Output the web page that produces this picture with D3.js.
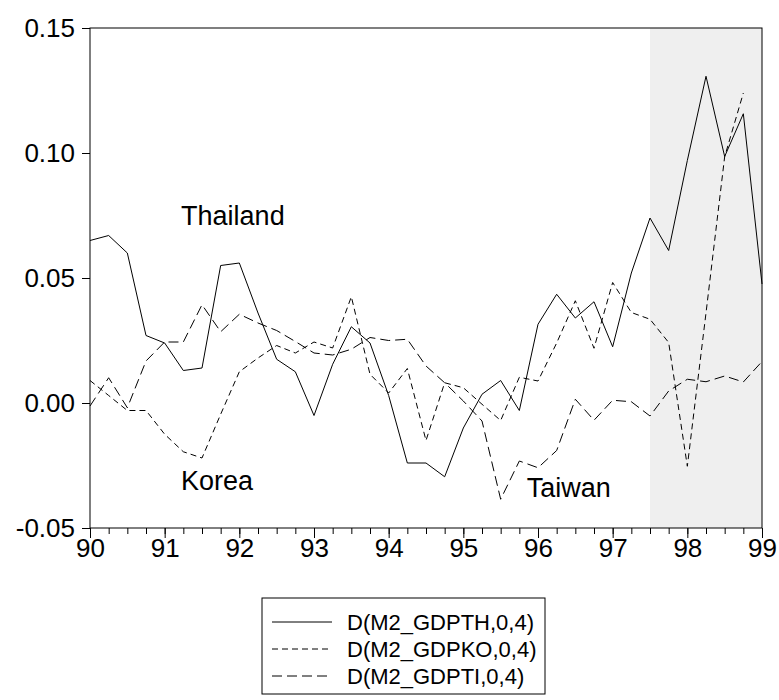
<!DOCTYPE html>
<html>
<head>
<meta charset="utf-8">
<script src="https://cdn.jsdelivr.net/npm/d3@7"></script>
<style>
  body { margin: 0; background: #fff; }
  svg text { font-family: "Liberation Sans", Arial, sans-serif; fill: #000; }
</style>
</head>
<body>
<svg id="chart" width="779" height="700"></svg>
<script>
// quarterly observations, 1990Q1 .. 1999Q1
const startYear = 90;
const thailand = [0.065, 0.067, 0.060, 0.027, 0.024, 0.013, 0.014, 0.055, 0.056, 0.036,
    0.0175, 0.0125, -0.005, 0.0155, 0.0305, 0.024, 0.003, -0.024, -0.024, -0.0295,
    -0.010, 0.0035, 0.009, -0.003, 0.0315, 0.0435, 0.034, 0.0405, 0.0225, 0.052,
    0.074, 0.061, 0.097, 0.1307, 0.0986, 0.1157, 0.0476];
const korea = [0.009, 0.003, -0.003, -0.003, -0.0125, -0.0195, -0.022, -0.0045, 0.0125, 0.018,
    0.023, 0.020, 0.0244, 0.022, 0.0425, 0.0115, 0.004, 0.0138, -0.015, 0.0081,
    0.0061, -0.0005, -0.007, 0.0103, 0.0088, 0.024, 0.0409, 0.0219, 0.0482, 0.0362,
    0.0335, 0.0242, -0.0253, 0.036, 0.0985, 0.124, null];
const taiwan = [-0.0012, 0.0101, -0.0019, 0.0168, 0.0244, 0.0244, 0.0393, 0.0285, 0.0355, 0.032,
    0.029, 0.0246, 0.020, 0.0192, 0.0215, 0.0262, 0.025, 0.0255, 0.0148, 0.0081,
    0.0008, -0.0072, -0.0385, -0.0232, -0.0259, -0.019, 0.0015, -0.0069, 0.0011, 0.0005,
    -0.0052, 0.0048, 0.0095, 0.0085, 0.0108, 0.0084, 0.0166];

const yTicks = [-0.05, 0.00, 0.05, 0.10, 0.15];
const xTicks = [90, 91, 92, 93, 94, 95, 96, 97, 98, 99];
const shadeRange = [97.5, 99];

const series = [
    {name: "D(M2_GDPTH,0,4)", values: thailand, dash: null},
    {name: "D(M2_GDPKO,0,4)", values: korea, dash: "6,4"},
    {name: "D(M2_GDPTI,0,4)", values: taiwan, dash: "10,5"}
];
const labels = [
    {text: "Thailand", x: 91.22, y: 0.075},
    {text: "Korea", x: 91.22, y: -0.031},
    {text: "Taiwan", x: 95.85, y: -0.034}
];

const svg = d3.select("#chart");
const marge = {left: 90, right: 17, top: 28, bottom: 172};
const width = 779, height = 700;

const x = d3.scaleLinear().domain([90, 99]).range([marge.left, width - marge.right]);
const y = d3.scaleLinear().domain([-0.05, 0.15]).range([height - marge.bottom, marge.top]);

// shaded period
svg.append("rect")
    .attr("x", x(shadeRange[0]))
    .attr("y", y(0.15))
    .attr("width", x(shadeRange[1]) - x(shadeRange[0]))
    .attr("height", y(-0.05) - y(0.15))
    .attr("fill", "#efefef");

// lines
const line = d3.line()
    .defined(d => d != null)
    .x((d, i) => x(startYear + i / 4))
    .y(d => y(d));

series.forEach(s => {
    svg.append("path")
        .datum(s.values)
        .attr("fill", "none")
        .attr("stroke", "#000")
        .attr("stroke-width", 1)
        .attr("stroke-dasharray", s.dash)
        .attr("d", line);
});

// frame
svg.append("rect")
    .attr("x", x(90))
    .attr("y", y(0.15))
    .attr("width", x(99) - x(90))
    .attr("height", y(-0.05) - y(0.15))
    .attr("fill", "none")
    .attr("stroke", "#000")
    .attr("stroke-width", 1);

const fmtY = d => d3.format(".2f")(d).replace("\u2212", "-");

// y axis
svg.append("g")
    .attr("transform", `translate(${x(90)},0)`)
    .call(d3.axisLeft(y).tickValues(yTicks).tickFormat(fmtY).tickSize(8).tickPadding(7))
    .call(g => g.select(".domain").remove())
    .call(g => g.selectAll("text").attr("font-size", 26).attr("font-family", "Liberation Sans, Arial, sans-serif"));

// x axis: minor quarterly ticks, major yearly ticks
const quarters = d3.range(0, 37).map(i => 90 + i / 4);
svg.append("g")
    .attr("transform", `translate(0,${y(-0.05)})`)
    .call(d3.axisBottom(x).tickValues(quarters).tickSize(6).tickFormat(""))
    .call(g => g.select(".domain").remove());
svg.append("g")
    .attr("transform", `translate(0,${y(-0.05)})`)
    .call(d3.axisBottom(x).tickValues(xTicks).tickSize(10).tickPadding(1).tickFormat(d3.format("d")))
    .call(g => g.select(".domain").remove())
    .call(g => g.selectAll("text").attr("font-size", 26).attr("font-family", "Liberation Sans, Arial, sans-serif"));

// in-plot labels
svg.selectAll(".lab")
    .data(labels)
    .enter()
    .append("text")
    .attr("class", "lab")
    .attr("x", d => x(d.x))
    .attr("y", d => y(d.y))
    .attr("dy", "0.35em")
    .attr("font-size", 27)
    .text(d => d.text);

// legend
const legend = svg.append("g").attr("transform", "translate(262,598)");
legend.append("rect")
    .attr("width", 283)
    .attr("height", 96)
    .attr("fill", "#fff")
    .attr("stroke", "#000")
    .attr("stroke-width", 1);
series.forEach((s, i) => {
    const yy = 24 + i * 27;
    legend.append("line")
        .attr("x1", 10).attr("x2", 70)
        .attr("y1", yy).attr("y2", yy)
        .attr("stroke", "#000")
        .attr("stroke-width", 1)
        .attr("stroke-dasharray", s.dash);
    legend.append("text")
        .attr("x", 85)
        .attr("y", yy)
        .attr("dy", "0.35em")
        .attr("font-size", 22)
        .text(s.name);
});
</script>
</body>
</html>
